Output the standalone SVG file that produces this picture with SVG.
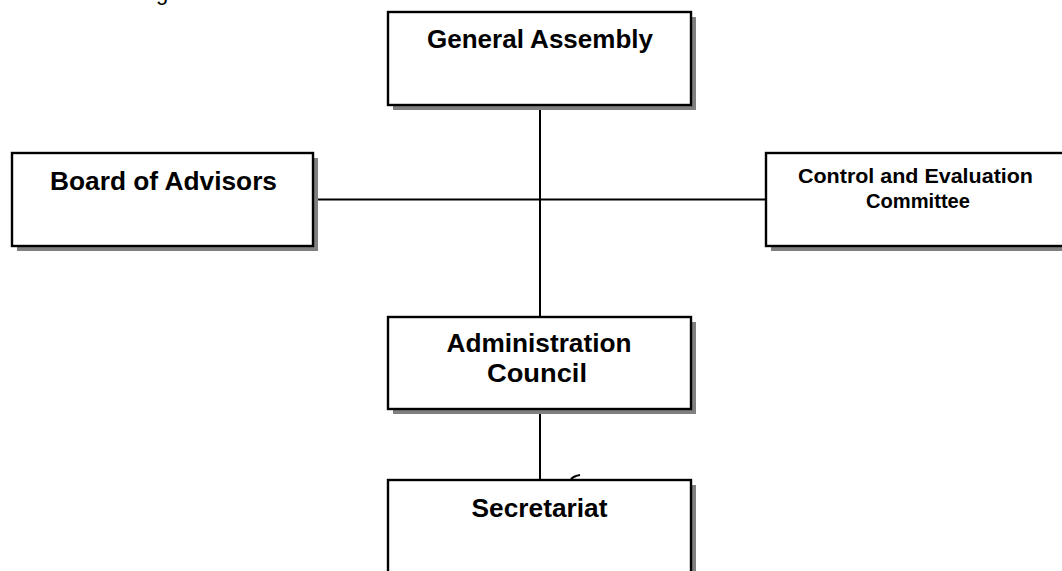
<svg xmlns="http://www.w3.org/2000/svg" width="1062" height="571" viewBox="0 0 1062 571">
  <style>
    .shadow { fill: #808080; stroke: none; }
    .box { fill: #ffffff; stroke: #000000; stroke-width: 2.4; }
    .lbl { font-family: "Liberation Sans", Arial, sans-serif; font-weight: bold; fill: #000000; text-anchor: middle; }
    .big { font-size: 25px; }
    .small { font-size: 19.5px; }
    .conn { stroke: #000000; stroke-width: 2; fill: none; }
  </style>
  <rect width="1062" height="571" fill="#ffffff"/>
  <text x="156" y="0" font-family="Liberation Sans, Arial, sans-serif" font-size="22" fill="#000000">g</text>

  <g id="connectors">
    <line class="conn" x1="540" y1="105" x2="540" y2="317"/>
    <line class="conn" x1="313" y1="199.5" x2="766" y2="199.5"/>
    <line class="conn" x1="540" y1="409" x2="540" y2="480"/>
    <path class="conn" d="M571 479 Q574 476 580 475" stroke-width="1.3"/>
  </g>

  <g id="general-assembly">
    <rect class="shadow" x="393" y="17" width="303" height="93"/>
    <rect class="box" x="388" y="12" width="303" height="93"/>
    <text class="lbl big" x="540" y="48" textLength="226" lengthAdjust="spacingAndGlyphs">General Assembly</text>
  </g>

  <g id="board-of-advisors">
    <rect class="shadow" x="17" y="158" width="301" height="93"/>
    <rect class="box" x="12" y="153" width="301" height="93"/>
    <text class="lbl big" x="163.5" y="189.5" textLength="227" lengthAdjust="spacingAndGlyphs">Board of Advisors</text>
  </g>

  <g id="control-evaluation">
    <rect class="shadow" x="771" y="158" width="310" height="93"/>
    <rect class="box" x="766" y="153" width="310" height="93"/>
    <text class="lbl small" x="915.5" y="183" textLength="235" lengthAdjust="spacingAndGlyphs">Control and Evaluation</text>
    <text class="lbl small" x="918" y="207.5" textLength="104" lengthAdjust="spacingAndGlyphs">Committee</text>
  </g>

  <g id="administration-council">
    <rect class="shadow" x="393" y="322" width="303" height="92"/>
    <rect class="box" x="388" y="317" width="303" height="92"/>
    <text class="lbl big" x="539" y="352" textLength="185" lengthAdjust="spacingAndGlyphs">Administration</text>
    <text class="lbl big" x="537" y="382" textLength="100" lengthAdjust="spacingAndGlyphs">Council</text>
  </g>

  <g id="secretariat">
    <rect class="shadow" x="393" y="485" width="303" height="100"/>
    <rect class="box" x="388" y="480" width="303" height="100"/>
    <text class="lbl big" x="539.5" y="517" textLength="136" lengthAdjust="spacingAndGlyphs">Secretariat</text>
  </g>
</svg>
